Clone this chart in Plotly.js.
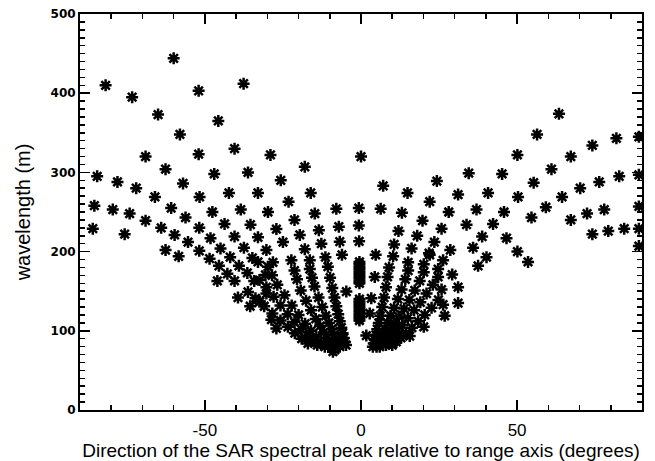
<!DOCTYPE html>
<html><head><meta charset="utf-8">
<script src="https://cdn.plot.ly/plotly-3.0.1.min.js"></script>
<style>html,body{margin:0;padding:0;background:#fff}</style>
</head><body><div id="chart" style="width:655px;height:461px"></div>
<script>
// Direction (deg) / wavelength (m) pairs
const upperLeftDir = [-81.8,-60,-73.3,-65,-52,-37.6,-45.7,-58,-40.5,-69,-52,-62.6,-84.5,-78,-72,-66,-57,-47,-36.2,-42.3,-51.7,-33,-29,-18,-25.7,-16.1,-23.2];
const upperLeftLen = [410,444,395,373,403,412,365,348,330,320,323,304,295,288,280,269,286,298,300,274,269,274,322,307,290,274,263];

const leftMidDir = [-85.4,-79.5,-74.1,-69,-60.8,-56.2,-47.6,-38.5,-85.9,-75.7,-64,-59.7,-51.8,-43.7,-35.4,-55.4,-48.2,-40.5,-62.6,-58.4,-51.8,-45,-37.5,-48.5,-41.9,-34.8,-45.5,-39.1,-42.8,-36.4,-46,-40.5,-34.2,-36.2,-39.4,-35.5,-33,-29.8,-30.6,-30.3,-32.4,-28.7,-27.1,
  -29.8,-21.3,-14.8,-7.9,-27.1,-19.6,-13.5,-7.1,-33,-25,-18,-12.7,-6.8,-30.3,-22.3,-16.4,-11.4,-6.1,-28.2,-4.7,-9];
const leftMidLen = [258,253,248,239,255,243,250,253,229,222,230,221,230,235,234,212,217,219,202,194,201,204,205,191,193,192,182,182,172,173,163,163,163,149,142,131,187,181,170.5,147,137,114,103,
  250,240,248,254,228.5,221,227,231.5,218,212,203,210,212.5,202,189,189,193,196,186.5,149.5,73.6];

const leftFanDir = [-4.8,-5.2,-5.5,-5.9,-6.3,-6.8,-7.3,-7.9,-8.5,-9.2,-9.9,-10.6,
  -6.8,-7.3,-7.9,-8.6,-9.4,-10.3,-11.3,-12.4,-13.6,-14.9,-15.7,-16.4,
  -8.4,-9,-9.8,-10.8,-11.9,-13.1,-14.5,-16,-17.6,-19.3,-20.5,-21.3,
  -11.6,-12.8,-14.3,-16,-17.9,-20,-22.2,-24.5,-26.8,-28.5,
  -14,-15.5,-17.2,-19.2,-21.3,-23.5,-25.8,-28,-30.3,-32.5,
  -17,-19,-21.2,-23.4,-25.8,-28.4,-31,-33.8];
const leftFanLen = [82,86,91,97,104,112,121,131,142,154,167,181,
  80,84,89,95,102,110,119,130,142,156,167,178,
  76,80,85,91,98,106,115,126,138,151,165,176,
  80,85,92,100,109,120,132,145,158,170,
  82,87,94,102,111,121,132,143,155,164,
  84,90,97,105,113,122,131,141];

const centreDir = [0,-0.7,-0.7,-0.6,-0.5,-0.5,-0.5,-0.5,-0.5,-0.5,-0.5,-0.5,-0.5,-0.5,-0.5,-0.5,-0.5,-0.5,-0.5,-0.5,-0.5,-0.5,-0.5,-0.5];
const centreLen = [320,255,233,213,187,184,181,178,175,172,169,166,163,160,140,137,134,131,128,125,122,119,116,113];

const rightNearDir = [4.4,3.3,2.8,1.7,4.7,6.3,7.1,13.1,14.9,12,10.6,10.3,16.2,18,19.7,22,21.8,15.1,20.1,23.5,22,24.3,20.1,15.6];
const rightNearLen = [168,141,122,94,196,254,283,249,274,226,209,194,204,220,239,263,198,186.5,184,212,196,289,105,93.4];

const rightFanDir = [3.8,4.1,4.4,4.8,5.2,5.7,6.2,6.8,7.4,8,8.5,9,
  5,5.5,6.1,6.8,7.6,8.5,9.5,10.6,11.8,13,14.2,15.1,
  6,6.7,7.5,8.4,9.5,10.8,12.2,13.8,15.5,17.2,18.8,20.1,
  8,9,10.2,11.6,13.2,15,17,19,21,23,24.7,
  10,11.3,12.8,14.5,16.3,18.3,20.4,22.6,24.8];
const rightFanLen = [80,84,89,95,102,110,119,130,142,155,168,180,
  80,84,89,95,102,110,119,129,140,152,165,176,
  80,84,89,94,101,109,118,128,139,151,163,174,
  82,86,92,99,107,116,126,136,147,158,168,
  82,86,91,97,104,112,120,129,139];

const upperRightDir = [63.4,56.4,81.8,50.1,74.1,67.2,61,34.5,45.2,55.3,76.3,82.7,31.1,40.7,50.3,70.2,64.4,59.2,28.1,37,45.8,54.6,72.4,77.9,67.2,25.8,33.8,42.3,74.1,79.2,84.3,38.8,46.6,28.6,35.9,50.1,26.3,40.2,53.5,24.7,37.5,29.2,25.8,31.1,26.3,31.1,26.8,89,89,89,89,89];
const upperRightLen = [374,348,343,322,334,320,304,299,298,287,288,295,272,274,269,280,269,256,250,253,250,243,248,253,240,229,234,235,222,226,229,219,217,202,205,200,189,193,187,178,182,171,152,155,133,135,119,345,297,257,229,207];

// Axis tick labels
const xTickVals = [-50, 0, 50];
const xTickText = ['-50', '0', '50'];
const yTickVals = [0, 100, 200, 300, 400, 500];
const yTickText = ['0', '100', '200', '300', '400', '500'];

const dirs = [].concat(upperLeftDir, leftMidDir, leftFanDir, centreDir, rightNearDir, rightFanDir, upperRightDir);
const lens = [].concat(upperLeftLen, leftMidLen, leftFanLen, centreLen, rightNearLen, rightFanLen, upperRightLen);

const trace = {
  x: dirs, y: lens, type: 'scatter', mode: 'markers', cliponaxis: true,
  marker: {symbol: 'asterisk-open', size: 10, color: '#000', line: {color: '#000', width: 2.5}}
};

const layout = {
  width: 655, height: 461,
  margin: {l: 80, r: 13, t: 14, b: 51},
  paper_bgcolor: '#fff', plot_bgcolor: '#fff',
  showlegend: false,
  xaxis: {
    range: [-90, 90], tickmode: 'array', tickvals: xTickVals, ticktext: xTickText,
    ticks: 'inside', ticklen: 10, tickwidth: 1.5, tickcolor: '#000', ticklabelstandoff: 4,
    minor: {dtick: 10, tick0: 0, ticks: 'inside', ticklen: 5, tickwidth: 1.5, tickcolor: '#000'},
    showline: true, linewidth: 2, linecolor: '#000', mirror: 'allticks',
    showgrid: false, zeroline: false,
    tickfont: {family: 'Liberation Sans, Arial, sans-serif', size: 17, color: '#000'},
    title: {text: 'Direction of the SAR spectral peak relative to range axis (degrees)',
      font: {family: 'Liberation Sans, Arial, sans-serif', size: 19, color: '#000'}}
  },
  yaxis: {
    range: [0, 500], tickmode: 'array', tickvals: yTickVals, ticktext: yTickText,
    ticks: 'inside', ticklen: 10, tickwidth: 1.5, tickcolor: '#000',
    minor: {dtick: 10, tick0: 0, ticks: 'inside', ticklen: 5, tickwidth: 1.5, tickcolor: '#000'},
    showline: true, linewidth: 2, linecolor: '#000', mirror: 'allticks',
    showgrid: false, zeroline: false,
    tickfont: {family: 'DejaVu Sans, sans-serif', size: 12, weight: 'bold', color: '#000'},
    title: {text: 'wavelength (m)', standoff: 15,
      font: {family: 'Liberation Sans, Arial, sans-serif', size: 20, color: '#000'}}
  }
};

Plotly.newPlot('chart', [trace], layout, {staticPlot: true, displayModeBar: false});
</script>
</body></html>
